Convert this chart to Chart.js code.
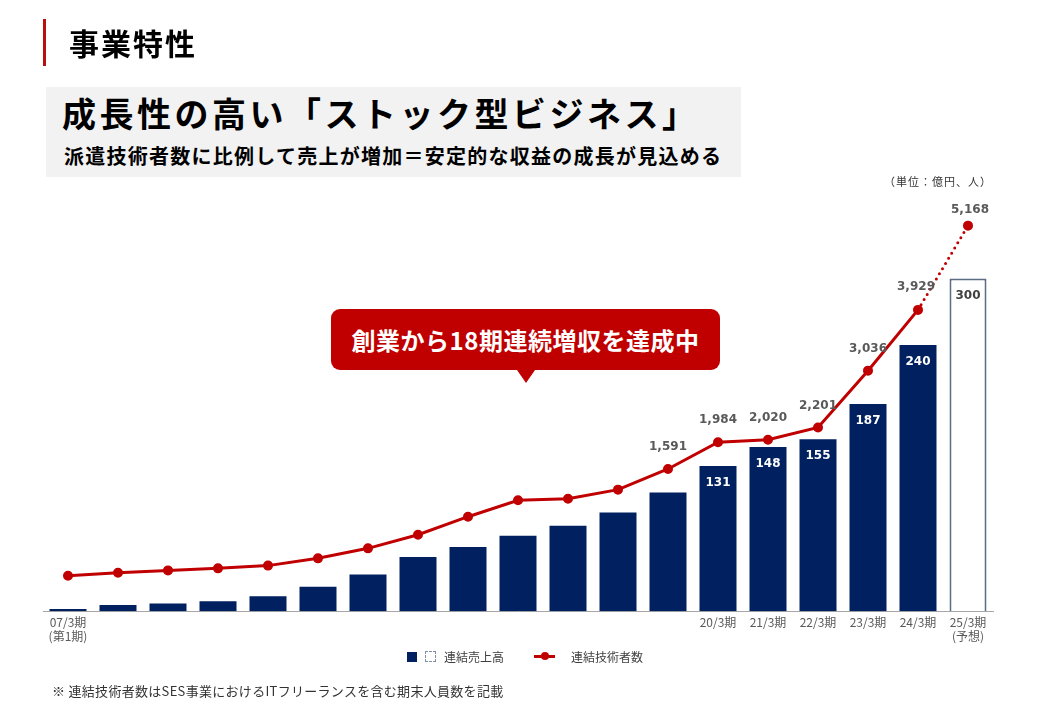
<!DOCTYPE html>
<html>
<head>
<meta charset="utf-8">
<script src="https://cdn.jsdelivr.net/npm/chart.js@4/dist/chart.umd.min.js"></script>
<style>
  body { margin: 0; width: 1040px; height: 720px; background: #fff; position: relative; overflow: hidden;
         font-family: "Noto Sans CJK JP", sans-serif; color: #000; }
  #myChart { position: absolute; left: 0; top: 0; }
  .abs { position: absolute; white-space: nowrap; }
  #bar { left: 43px; top: 19px; width: 3px; height: 47px; background: #b80f0f; }
  #title { left: 69px; top: 22px; font-size: 30px; font-weight: bold; line-height: 40px; letter-spacing: 2px; }
  #box { left: 46px; top: 87px; width: 695px; height: 90px; background: #f2f2f2; }
  #head { left: 62px; top: 90px; font-size: 34px; font-weight: bold; letter-spacing: 3.5px; line-height: 46px; }
  #sub { left: 64px; top: 142px; font-size: 20px; font-weight: bold; line-height: 28px; letter-spacing: 1.25px; }
  #unit { left: 884px; top: 173px; font-size: 11px; color: #333; letter-spacing: 1px; }
  #callout { left: 331px; top: 309px; width: 389px; height: 61px; background: #c00000; border-radius: 9px;
             color: #fff; font-size: 24px; font-weight: bold; line-height: 61px; text-align: center; letter-spacing: 0.5px; }
  #callout:after { content: ""; position: absolute; left: 186px; top: 61px; border-left: 9px solid transparent;
                   border-right: 9px solid transparent; border-top: 13px solid #c00000; }
  #legend { left: 407px; top: 646px; font-size: 12px; color: #404040; line-height: 18px; }
  #legend span { display: inline-block; vertical-align: middle; }
  .sq { width: 10px; height: 10px; background: #002060; margin-right: 8px; }
  .sq2 { width: 9px; height: 9px; border: 1px dashed #7f8fa6; margin-right: 8px; }
  .ln { width: 21px; height: 3px; background: #c00000; position: relative; margin-left: 30px; margin-right: 16px; }
  .ln:after { content: ""; position: absolute; left: 7px; top: -3px; width: 8px; height: 8px; border-radius: 50%; background: #c00000; }
  #note { left: 52px; top: 681px; font-size: 13px; color: #333; letter-spacing: 0.3px; }
</style>
</head>
<body>
<canvas id="myChart" width="1040" height="720"></canvas>
<div class="abs" id="bar"></div>
<div class="abs" id="title">事業特性</div>
<div class="abs" id="box"></div>
<div class="abs" id="head">成長性の高い「ストック型ビジネス」</div>
<div class="abs" id="sub">派遣技術者数に比例して売上が増加＝安定的な収益の成長が見込める</div>
<div class="abs" id="unit">（単位：億円、人）</div>
<div class="abs" id="callout">創業から18期連続増収を達成中</div>
<div class="abs" id="legend"><span class="sq"></span><span class="sq2"></span><span>連結売上高</span><span class="ln"></span><span>連結技術者数</span></div>
<div class="abs" id="note">※ 連結技術者数はSES事業におけるITフリーランスを含む期末人員数を記載</div>
<script>
const categories = ['07/3期', '08/3期', '09/3期', '10/3期', '11/3期', '12/3期', '13/3期', '14/3期', '15/3期', '16/3期',
  '17/3期', '18/3期', '19/3期', '20/3期', '21/3期', '22/3期', '23/3期', '24/3期', '25/3期'];
const tickLabels = [['07/3期', '(第1期)'], '', '', '', '', '', '', '', '', '', '', '', '',
  '20/3期', '21/3期', '22/3期', '23/3期', '24/3期', ['25/3期', '(予想)']];
// 連結売上高 (億円)
const sales = [2, 5.5, 7, 9, 13.5, 22, 33, 49, 58, 68, 77, 89, 107, 131, 148, 155, 187, 240, 300];
// 連結技術者数 (人)
const engineers = [20, 65, 100, 130, 170, 277, 424, 624, 889, 1130, 1154, 1287, 1591, 1984, 2020, 2201, 3036, 3929, 5168];

const last = sales.length - 1;
const firstBarLabel = 13;
const firstLineLabel = 12;

const valueLabels = {
  id: 'valueLabels',
  afterDatasetsDraw(chart) {
    const ctx = chart.ctx;
    ctx.save();
    ctx.textAlign = 'center';
    ctx.textBaseline = 'middle';
    ctx.font = 'bold 12px "DejaVu Sans"';
    chart.getDatasetMeta(1).data.forEach((el, i) => {
      if (i < firstBarLabel) return;
      ctx.fillStyle = i === last ? '#404040' : '#fff';
      ctx.fillText(sales[i], el.x, el.y + 17);
    });
    chart.getDatasetMeta(0).data.forEach((el, i) => {
      if (i < firstLineLabel) return;
      ctx.fillStyle = '#595959';
      let dx = 0, dy = -22;
      if (i === last - 1) { dx = -2; dy = -23; }
      if (i === last) { dx = 2; dy = -16; }
      ctx.fillText(engineers[i].toLocaleString('en-US'), el.x + dx, el.y + dy);
    });
    ctx.restore();
  }
};

document.addEventListener('DOMContentLoaded', () => {
  let c = document.getElementById('myChart').getContext('2d');
  new Chart(c, {
    data: {
      labels: categories,
      datasets: [
        {
          type: 'line',
          label: '連結技術者数',
          data: engineers,
          yAxisID: 'y2',
          order: 0,
          borderColor: '#c00000',
          backgroundColor: '#c00000',
          borderWidth: 3,
          pointRadius: 3.5,
          pointHoverRadius: 3.5,
          tension: 0,
          segment: {
            borderDash: s => s.p1DataIndex === last ? [0, 6] : undefined,
            borderCapStyle: s => s.p1DataIndex === last ? 'round' : 'butt'
          }
        },
        {
          type: 'bar',
          label: '連結売上高',
          data: sales,
          yAxisID: 'y',
          order: 1,
          backgroundColor: sales.map((v, i) => i === last ? '#ffffff' : '#002060'),
          borderColor: sales.map((v, i) => i === last ? '#5b6d85' : '#002060'),
          borderWidth: sales.map((v, i) => i === last ? 2 : 0),
          categoryPercentage: 1,
          barPercentage: 0.74
        }
      ]
    },
    options: {
      responsive: false,
      animation: false,
      devicePixelRatio: 1,
      layout: { padding: { left: 43, right: 47, top: 201, bottom: 72 } },
      plugins: { legend: { display: false }, tooltip: { enabled: false } },
      scales: {
        x: {
          grid: { display: false, drawTicks: false },
          border: { color: '#a6a6a6', width: 1 },
          ticks: {
            autoSkip: false,
            maxRotation: 0,
            color: '#595959',
            padding: 4,
            font: { family: '"Noto Sans CJK JP"', size: 12 },
            callback: (v, i) => tickLabels[i]
          }
        },
        y: { display: false, min: 0, max: 370 },
        y2: { display: false, min: -500, max: 5530 }
      }
    },
    plugins: [valueLabels]
  });
});
</script>
</body>
</html>
